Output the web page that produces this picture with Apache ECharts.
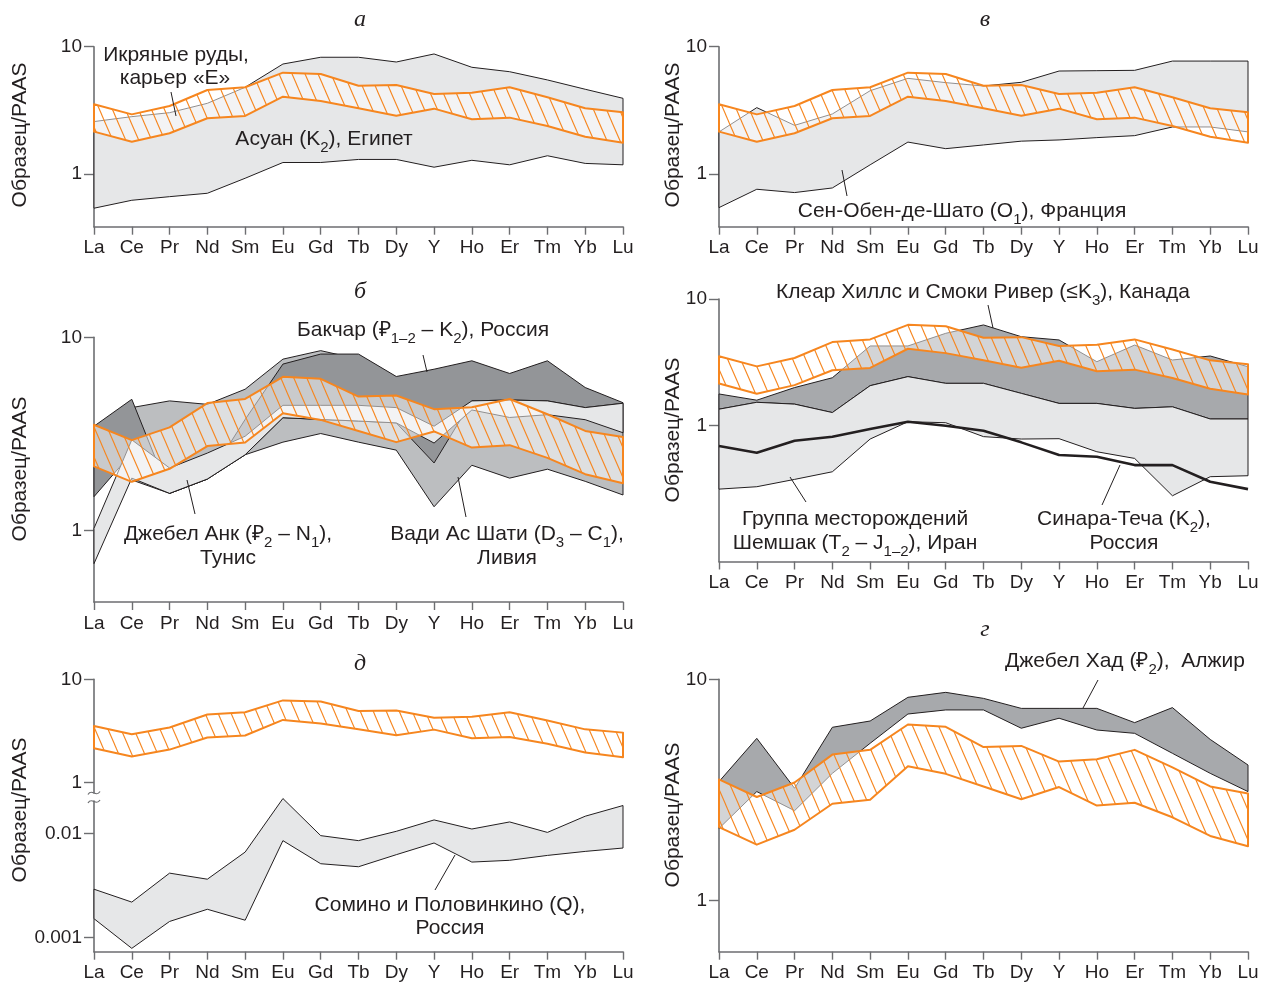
<!DOCTYPE html>
<html>
<head>
<meta charset="utf-8">
<script src="https://cdn.jsdelivr.net/npm/echarts@6/dist/echarts.min.js"></script>
<style>
  html, body { margin: 0; padding: 0; background: #fff; }
  #chart { width: 1261px; height: 985px; }
</style>
</head>
<body>
<div id="chart"></div>
<script>
// REE + Y sequence along the x axis
const elements = ['La','Ce','Pr','Nd','Sm','Eu','Gd','Tb','Dy','Y','Ho','Er','Tm','Yb','Lu'];

// Икряные руды, карьер «Е» — envelope repeated in every panel
const ikrUpper = [3.53, 2.94, 3.42, 4.57, 4.80, 6.25, 6.10, 4.94, 5.00, 4.25, 4.35, 4.80, 4.00, 3.28, 3.05];
const ikrLower = [2.15, 1.79, 2.09, 2.74, 2.86, 4.05, 3.74, 3.28, 2.87, 3.26, 2.69, 2.77, 2.38, 1.96, 1.76];

// а — Асуан (K2), Египет
const asuanUpper = [2.58, 2.82, 3.03, 3.59, 4.80, 7.31, 8.26, 8.26, 7.58, 8.77, 6.89, 6.36, 5.48, 4.63, 3.93];
const asuanLower = [0.538, 0.621, 0.663, 0.705, 0.925, 1.23, 1.23, 1.30, 1.30, 1.13, 1.28, 1.18, 1.39, 1.21, 1.18];

// в — Сен-Обен-де-Шато (O1), Франция
const senObenUpper = [2.14, 3.32, 2.41, 2.96, 4.51, 5.64, 5.22, 4.91, 5.25, 6.44, 6.48, 6.52, 7.71, 7.71, 7.71];
const senObenLower = [0.544, 0.758, 0.714, 0.776, 1.18, 1.78, 1.58, 1.69, 1.81, 1.85, 1.93, 2.00, 2.34, 2.34, 2.14];

// б — Вади Ас Шати, Бакчар, Джебел Анк
const wadiUpper = [3.14, 4.33, 4.69, 4.50, 5.39, 7.71, 8.53, 7.71, 6.07, 5.39, 5.18, 4.97, 4.97, 4.59, 4.56];
const wadiLower = [3.08, 1.83, 1.56, 1.85, 2.47, 2.87, 3.18, 2.87, 2.61, 1.33, 2.18, 1.87, 2.08, 1.80, 1.53];
const bakcharUpper = [3.47, 4.78, 1.56, 1.85, 3.76, 7.27, 8.19, 8.19, 6.27, 6.84, 7.56, 6.50, 7.56, 5.50, 4.59];
const bakcharLower = [1.50, 2.52, 1.56, 1.85, 2.47, 3.84, 3.76, 3.69, 3.61, 2.24, 4.69, 4.74, 4.69, 4.33, 4.56];
const jebelAnkUpper = [1.03, 2.95, 2.11, 2.52, 3.08, 4.45, 4.45, 4.45, 4.33, 3.47, 4.69, 4.74, 4.69, 4.33, 4.56];
const jebelAnkLower = [0.676, 1.87, 1.56, 1.85, 2.47, 3.84, 3.76, 3.69, 3.61, 2.84, 4.21, 3.85, 3.98, 3.75, 3.21];

// Клеар Хиллс и Смоки Ривер, Шемшак, Синара-Теча
const clearHillsUpper = [1.78, 1.59, 2.00, 2.39, 4.26, 4.26, 5.36, 6.24, 5.04, 4.75, 3.20, 4.33, 3.30, 3.55, 2.92];
const clearHillsLower = [1.35, 1.53, 1.48, 1.27, 2.07, 2.44, 2.16, 2.16, 1.80, 1.50, 1.50, 1.37, 1.41, 1.13, 1.13];
const shemshakUpper = [1.35, 1.53, 1.48, 1.27, 2.07, 2.44, 2.16, 2.16, 1.80, 1.50, 1.50, 1.37, 1.41, 1.13, 1.13];
const shemshakLower = [0.316, 0.330, 0.377, 0.433, 0.785, 1.075, 1.056, 0.82, 0.785, 0.79, 0.623, 0.552, 0.280, 0.396, 0.403];
const sinaraTecha = [0.691, 0.612, 0.761, 0.819, 0.941, 1.075, 1.00, 0.913, 0.739, 0.587, 0.569, 0.489, 0.489, 0.361, 0.316];

// д — Сомино и Половинкино (Q), Россия
const sominoUpper = [0.0029, 0.00218, 0.00414, 0.00362, 0.0066, 0.0216, 0.0095, 0.0085, 0.01045, 0.01345, 0.0110, 0.01286, 0.0102, 0.0146, 0.0185];
const sominoLower = [0.00151, 0.000783, 0.00142, 0.00186, 0.00146, 0.0085, 0.0051, 0.00477, 0.00623, 0.00807, 0.00529, 0.0055, 0.00613, 0.0067, 0.00722];

// г — Джебел Хад (P2), Алжир
const jebelKhadUpper = [3.45, 5.41, 3.22, 6.07, 6.48, 8.29, 8.73, 8.20, 7.39, 7.39, 7.39, 6.37, 7.45, 5.35, 4.10];
const jebelKhadLower = [2.12, 3.11, 2.55, 3.76, 5.14, 6.97, 7.27, 7.27, 6.01, 6.67, 5.90, 5.70, 4.63, 3.76, 3.11];

// y-axis tick values
const yTicksMain = [1, 10];
const yTicksLow = [0.001, 0.01];
const yTickText = { 1: '1', 10: '10', 0.01: '0.01', 0.001: '0.001' };

const FONT = '"Liberation Sans", Arial, sans-serif';
const TEXT = '#231f20';
const AXIS = '#6d6e71';
const ORANGE = '#f6861f';
const LIGHT = '#e6e7e8';
const MEDIUM = '#bcbec0';
const DARK = '#939598';
const DARK2 = '#a7a9ac';
const EDGE = '#231f20';

// diagonal hatch over a half-transparent white ground
function hatchPattern() {
  const w = 13, h = 30;
  const c = document.createElement('canvas');
  c.width = w; c.height = h;
  const ctx = c.getContext('2d');
  ctx.fillStyle = 'rgba(255,255,255,0.5)';
  ctx.fillRect(0, 0, w, h);
  ctx.strokeStyle = ORANGE;
  ctx.lineWidth = 1.1;
  for (const dx of [-w, 0, w]) {
    ctx.beginPath();
    ctx.moveTo(dx - w, -h);
    ctx.lineTo(dx + 2 * w, 2 * h);
    ctx.stroke();
  }
  return { image: c, repeat: 'repeat' };
}
const HATCH = hatchPattern();

// layout of the panels (pixels)
const grids = [
  { left: 94,  top: 46.7,  width: 529, height: 180 },    // а
  { left: 719, top: 46.7,  width: 529, height: 180 },    // в
  { left: 94,  top: 337.3, width: 529, height: 264.7 },  // б
  { left: 719, top: 299,   width: 529, height: 262.5 },  // Клеар Хиллс / Шемшак
  { left: 94,  top: 679.3, width: 529, height: 113.7 },  // д, upper part
  { left: 94,  top: 801,   width: 529, height: 150.7 },  // д, lower part
  { left: 719, top: 679.3, width: 529, height: 272.4 }   // г
];
const yRanges = [
  [0.385, 10], [0.385, 10], [0.428, 10], [0.0848, 10],
  [0.795, 10], [0.000727, 0.02045], [0.588, 10]
];

function xAxisFor(gi, show) {
  return {
    type: 'category', gridIndex: gi, data: elements, boundaryGap: false, show: show,
    axisLine: { show: true, lineStyle: { color: AXIS, width: 1.6 } },
    axisTick: { show: true, length: 8, inside: false, alignWithLabel: true, lineStyle: { color: AXIS, width: 1.4 } },
    axisLabel: { interval: 0, margin: 12, fontSize: 19, fontFamily: FONT, color: TEXT },
    splitLine: { show: false }
  };
}
function yAxisFor(gi, range, ticks) {
  return {
    type: 'log', logBase: 10, gridIndex: gi, min: range[0], max: range[1],
    axisLine: { show: true, lineStyle: { color: AXIS, width: 1.6 } },
    axisTick: { show: true, length: 10, customValues: ticks, lineStyle: { color: AXIS, width: 1.4 } },
    axisLabel: {
      show: true, margin: 12, fontSize: 19, fontFamily: FONT, color: TEXT, customValues: ticks,
      formatter: function (v) {
        for (const t of ticks) { if (Math.abs(Math.log10(v / t)) < 1e-6) return yTickText[t]; }
        return '';
      }
    },
    splitLine: { show: false }, minorTick: { show: false }, minorSplitLine: { show: false }
  };
}

// filled envelope between a lower and an upper curve
function envelope(gi, lower, upper, fill, stroke, lw) {
  return {
    type: 'custom', xAxisIndex: gi, yAxisIndex: gi, silent: true, clip: false,
    data: lower.map((v, i) => [i, v, upper[i]]),
    encode: { x: 0, y: [1, 2] },
    renderItem: function (params, api) {
      if (params.dataIndexInside !== 0) return null;
      const n = params.dataInsideLength;
      const top = [], bot = [];
      for (let i = 0; i < n; i++) {
        const x = api.value(0, i);
        top.push(api.coord([x, api.value(2, i)]));
        bot.push(api.coord([x, api.value(1, i)]));
      }
      return {
        type: 'polygon',
        shape: { points: top.concat(bot.reverse()) },
        style: { fill: fill, stroke: stroke, lineWidth: lw, lineJoin: 'round' }
      };
    }
  };
}
function ikrBand(gi) { return envelope(gi, ikrLower, ikrUpper, HATCH, ORANGE, 2); }

const series = [
  envelope(0, asuanLower, asuanUpper, LIGHT, EDGE, 1), ikrBand(0),
  envelope(1, senObenLower, senObenUpper, LIGHT, EDGE, 1), ikrBand(1),
  envelope(2, wadiLower, wadiUpper, MEDIUM, EDGE, 1),
  envelope(2, bakcharLower, bakcharUpper, DARK, EDGE, 1),
  envelope(2, jebelAnkLower, jebelAnkUpper, LIGHT, EDGE, 1), ikrBand(2),
  envelope(3, clearHillsLower, clearHillsUpper, DARK2, EDGE, 1),
  envelope(3, shemshakLower, shemshakUpper, LIGHT, EDGE, 1),
  { type: 'line', xAxisIndex: 3, yAxisIndex: 3, data: sinaraTecha, symbol: 'none', silent: true,
    lineStyle: { color: EDGE, width: 2.6 }, z: 3 },
  ikrBand(3),
  ikrBand(4),
  envelope(5, sominoLower, sominoUpper, LIGHT, EDGE, 1),
  envelope(6, jebelKhadLower, jebelKhadUpper, DARK2, EDGE, 1), ikrBand(6)
];

// annotation helpers
const RICH = {
  sub: { fontSize: 15, fontFamily: FONT, fill: TEXT, verticalAlign: 'bottom', lineHeight: 32 }
};
function note(x, y, text) {
  return { type: 'text', x: x, y: y, z: 100, silent: true,
    style: { text: text, font: '21px ' + FONT, fill: TEXT, align: 'center', verticalAlign: 'middle', rich: RICH } };
}
function leader(x1, y1, x2, y2) {
  return { type: 'line', z: 100, silent: true, shape: { x1, y1, x2, y2 }, style: { stroke: EDGE, lineWidth: 1 } };
}
function letter(x, y, t) {
  return { type: 'text', x: x, y: y, z: 100, silent: true,
    style: { text: t, font: 'italic 24px "Liberation Serif", "DejaVu Serif", serif', fill: TEXT, align: 'center', verticalAlign: 'middle' } };
}
function yName(x, y) {
  return { type: 'text', x: x, y: y, rotation: Math.PI / 2, z: 100, silent: true,
    style: { text: 'Образец/PAAS', font: '21px ' + FONT, fill: TEXT, align: 'center', verticalAlign: 'middle' } };
}
function breakMark(y) {
  return { type: 'bezierCurve', z: 100, silent: true,
    shape: { x1: 88, y1: y + 1.5, x2: 100, y2: y - 1.5, cpx1: 92, cpy1: y - 5, cpx2: 96, cpy2: y + 5 },
    style: { stroke: AXIS, lineWidth: 1.3, fill: null } };
}

const graphics = [
  letter(360, 20, 'а'), letter(985, 20, 'в'), letter(360, 292, 'б'),
  letter(360, 664, 'д'), letter(985, 630, 'г'),
  yName(20, 135), yName(673, 135), yName(20, 469), yName(673, 430), yName(20, 810), yName(673, 815),
  note(176, 55, 'Икряные руды,'), note(175, 78, 'карьер «Е»'), leader(171, 92, 176, 116),
  note(324, 139, 'Асуан (K{sub|2}), Египет'),
  note(962, 211, 'Сен-Обен-де-Шато (O{sub|1}), Франция'), leader(842, 170, 847, 196),
  note(423, 330, 'Бакчар (₽{sub|1–2} – K{sub|2}), Россия'), leader(423, 355, 427, 372),
  note(228, 534, 'Джебел Анк (₽{sub|2} – N{sub|1}),'), note(228, 558, 'Тунис'), leader(187, 480, 195, 514),
  note(507, 534, 'Вади Ас Шати (D{sub|3} – C{sub|1}),'), note(507, 558, 'Ливия'), leader(458, 477, 466, 517),
  note(983, 292, 'Клеар Хиллс и Смоки Ривер (≤K{sub|3}), Канада'), leader(988, 305, 993, 328),
  note(855, 519, 'Группа месторождений'), note(855, 543, 'Шемшак (T{sub|2} – J{sub|1–2}), Иран'), leader(790, 477, 806, 502),
  note(1124, 519, 'Синара-Теча (K{sub|2}),'), note(1124, 543, 'Россия'), leader(1120, 465, 1102, 505),
  note(450, 905, 'Сомино и Половинкино (Q),'), note(450, 928, 'Россия'), leader(455, 855, 435, 890),
  note(1125, 661, 'Джебел Хад (₽{sub|2}),  Алжир'), leader(1098, 680, 1083, 708),
  breakMark(793), breakMark(801.5)
];

const chart = echarts.init(document.getElementById('chart'), null, { renderer: 'canvas' });
chart.setOption({
  animation: false,
  backgroundColor: '#fff',
  grid: grids.map(g => Object.assign({ outerBoundsMode: 'none', containLabel: false }, g)),
  xAxis: grids.map((g, i) => xAxisFor(i, i !== 4)),
  yAxis: grids.map((g, i) => yAxisFor(i, yRanges[i], i === 5 ? yTicksLow : yTicksMain)),
  series: series,
  graphic: graphics
});
</script>
</body>
</html>
